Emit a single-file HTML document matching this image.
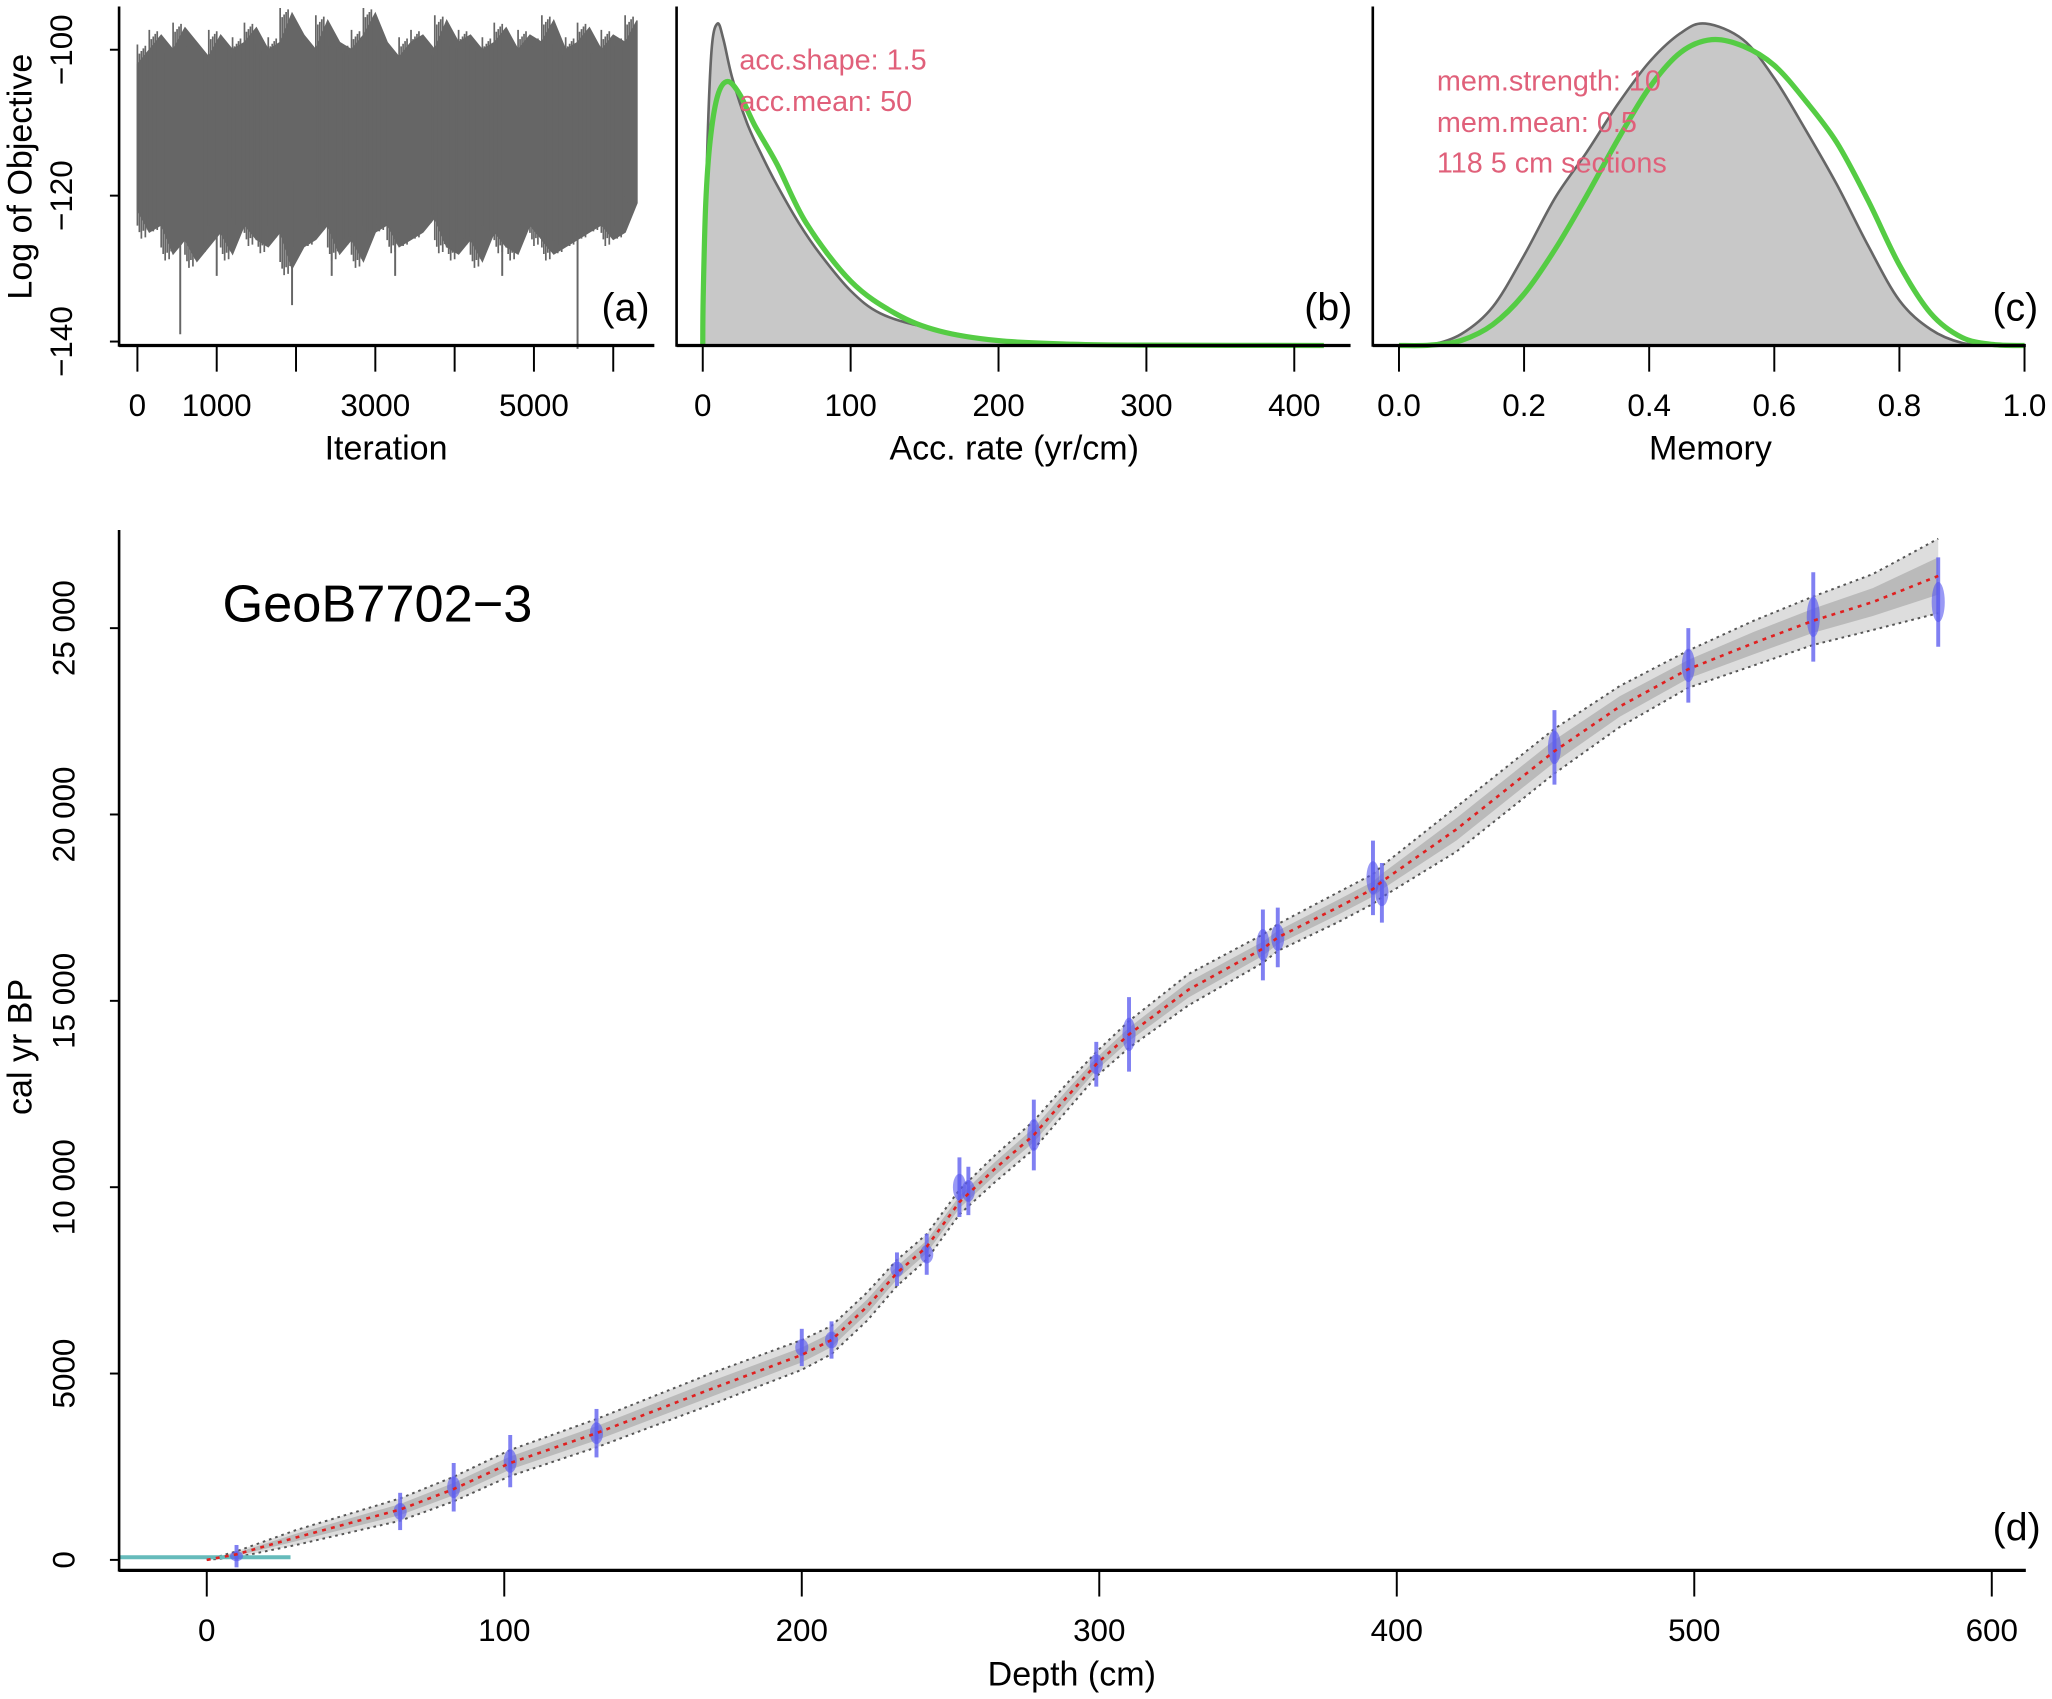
<!DOCTYPE html>
<html><head><meta charset="utf-8"><style>
html,body{margin:0;padding:0;background:#fff}
svg{display:block}
text{font-family:"Liberation Sans",Arial,sans-serif}
</style></head><body>
<svg id="s" xmlns="http://www.w3.org/2000/svg" width="2052" height="1699" viewBox="0 0 1568 1298.3" preserveAspectRatio="none">
<g id="ga"></g>
<g id="gb"></g>
<g id="gc"></g>
<g id="gd"></g>
</svg>
<script>
// ---- Panel a data (iteration trace envelope) ----
const iterX=[0,150,300,450,600,750,900,1050,1200,1350,1500,1650,1800,1950,2100,2250,2400,2550,2700,2850,3000,3150,3300,3450,3600,3750,3900,4050,4200,4350,4500,4650,4800,4950,5100,5250,5400,5550,5700,5850,6000,6150,6300];
const traceTop=[-102,-100,-98,-100,-97,-99,-101,-98,-100,-99,-97,-100,-99,-95,-98,-100,-96,-99,-100,-98,-95,-99,-101,-99,-98,-100,-96,-99,-98,-100,-99,-97,-100,-98,-99,-96,-100,-99,-97,-100,-98,-99,-96];
const traceBot=[-122,-125,-124,-128,-126,-129,-127,-125,-128,-124,-126,-127,-125,-130,-127,-126,-124,-128,-126,-129,-125,-124,-127,-126,-125,-123,-127,-128,-126,-129,-125,-127,-128,-124,-126,-128,-127,-126,-125,-124,-126,-125,-121];
const spikeIter=[540,1000,1950,2450,3250,4600,5550];
const spikeVal=[-139,-131,-135,-131,-131,-131,-141];
const aTicksX=[0,1000,2000,3000,4000,5000,6000];
const aLabelsX=["0","1000","","3000","","5000",""];
const aTicksY=[-100,-120,-140];
// ---- Panel b ----
const accX=[0,3,6,10,14,20,30,40,50,65,80,100,120,150,200,250,300,420];
const accPost=[0,0.6,0.92,1.0,0.95,0.83,0.69,0.59,0.5,0.38,0.28,0.17,0.1,0.057,0.016,0.005,0.002,0];
const accPriorX=[0,0.3,2,5,10,16.7,25,35,50,70,100,130,160,200,250,300,420];
const accPrior=[0,0.15,0.44,0.636,0.775,0.82,0.78,0.685,0.565,0.38,0.2,0.1,0.045,0.015,0.004,0.001,0];
const bTicks=[0,100,200,300,400];
// ---- Panel c ----
const memX=[0,0.05,0.1,0.15,0.2,0.25,0.3,0.35,0.4,0.45,0.49,0.55,0.6,0.65,0.7,0.75,0.8,0.85,0.9,0.95,1];
const memPost=[0,0.002,0.036,0.12,0.28,0.46,0.6,0.75,0.88,0.97,1.0,0.95,0.83,0.67,0.5,0.31,0.14,0.05,0.008,0,0];
const memPriorX=[0,0.05,0.1,0.15,0.2,0.25,0.3,0.35,0.4,0.45,0.5,0.55,0.6,0.65,0.7,0.75,0.8,0.85,0.9,0.95,1];
const memPrior=[0,0.001,0.016,0.065,0.16,0.30,0.465,0.64,0.8,0.91,0.95,0.93,0.87,0.76,0.63,0.45,0.25,0.1,0.025,0.003,0];
const cTicks=[0,0.2,0.4,0.6,0.8,1.0];
const cLabels=["0.0","0.2","0.4","0.6","0.8","1.0"];
// ---- Panel d ----
const modelDepth=[0,10,30,65,83,102,131,170,200,210,222,232,242,253,265,278,290,299,310,330,355,360,380,392,395,420,453,475,498,520,540,560,582];
const modelAge=[0,150,600,1350,1900,2600,3400,4600,5500,5900,6800,7700,8400,9600,10500,11400,12500,13300,14100,15300,16400,16700,17500,18000,18200,19600,21700,22900,23900,24600,25200,25700,26400];
const modelUnc=[0,80,200,300,330,350,380,420,400,380,380,350,340,330,360,380,360,330,360,420,380,360,400,400,420,600,600,550,500,600,650,750,1000];
const dateDepth=[10,65,83,102,131,200,210,232,242,253,256,278,299,310,355,360,392,395,453,498,540,582];
const dateAge=[100,1300,1950,2650,3400,5700,5900,7800,8200,10000,9900,11400,13300,14100,16500,16700,18300,17900,21800,24000,25300,25700];
const dateErr=[300,500,650,700,650,500,500,450,550,800,650,950,600,1000,950,800,1000,800,1000,1000,1200,1200];
const dTicksX=[0,100,200,300,400,500,600];
const dTicksY=[0,5000,10000,15000,20000,25000];
const dLabelsY=["0","5000","10 000","15 000","20 000","25 000"];

const NS="http://www.w3.org/2000/svg";
function mk(parent,tag,attrs,txt){const e=document.createElementNS(NS,tag);for(const k in attrs)e.setAttribute(k,attrs[k]);if(txt!==undefined)e.textContent=txt;parent.appendChild(e);return e;}
function smooth(P){let d='M'+P[0][0]+','+P[0][1];for(let i=0;i<P.length-1;i++){const p0=P[i-1]||P[i],p1=P[i],p2=P[i+1],p3=P[i+2]||p2;
 const c1=[p1[0]+(p2[0]-p0[0])/6,p1[1]+(p2[1]-p0[1])/6],c2=[p2[0]-(p3[0]-p1[0])/6,p2[1]-(p3[1]-p1[1])/6];
 d+=` C${c1[0]},${c1[1]} ${c2[0]},${c2[1]} ${p2[0]},${p2[1]}`;}return d;}
const ga=document.getElementById('ga'),gb=document.getElementById('gb'),gc=document.getElementById('gc'),gd=document.getElementById('gd');

// ===== Panel a =====
const ax=v=>105+v*0.0606, ay=v=>38+(v+100)*(-5.575);
let pts=[];iterX.forEach((v,i)=>pts.push(ax(v)+','+ay(traceTop[i])));
for(let i=iterX.length-1;i>=0;i--)pts.push(ax(iterX[i])+','+ay(traceBot[i]));
let e=mk(ga,'polygon',{points:pts.join(' '),fill:'#666',stroke:'#666','stroke-width':1});


iterX.forEach((v,i)=>{if(i==0)return;const x0=ax(iterX[i-1]);const x1=ax(v);
 for(let k=0;k<6;k++){const xx=x0+(x1-x0)*k/6;mk(ga,'line',{x1:xx,x2:xx,y1:ay(traceTop[i])+((k*7)%9)-4,y2:ay(traceBot[i])+((k*5)%11)-5,stroke:'#666','stroke-width':1.3});}});
spikeIter.forEach((v,i)=>{const l=mk(ga,'line',{x1:ax(v),x2:ax(v),y1:ay(-118),y2:ay(spikeVal[i]),stroke:'#666','stroke-width':1.5});
 
 });
mk(ga,'line',{x1:91,x2:91,y1:5,y2:265,stroke:'#000','stroke-width':2});
mk(ga,'line',{x1:91,x2:500,y1:264,y2:264,stroke:'#000','stroke-width':2.5});
aTicksX.forEach((v,i)=>{mk(ga,'line',{x1:ax(v),x2:ax(v),y1:264,y2:284,stroke:'#000','stroke-width':1.5});
 if(aLabelsX[i])mk(ga,'text',{x:ax(v),y:318,'font-size':24,'text-anchor':'middle'},aLabelsX[i]);});
aTicksY.forEach(v=>{mk(ga,'line',{x1:84,x2:91,y1:ay(v),y2:ay(v),stroke:'#000','stroke-width':1.5});
 mk(ga,'text',{x:0,y:0,'font-size':24,'text-anchor':'middle',transform:`translate(55,${ay(v)}) rotate(-90)`},String(v).replace('-','\u2212'));});
mk(ga,'text',{x:295,y:351,'font-size':26,'text-anchor':'middle'},'Iteration');
mk(ga,'text',{x:0,y:0,'font-size':26,'text-anchor':'middle',transform:'translate(24,135) rotate(-90)'},'Log of Objective');
mk(ga,'text',{x:478,y:245,'font-size':30,'text-anchor':'middle'},'(a)');

// ===== Panel b =====
const bx=v=>537+v*1.13, by=v=>264-v*246;
e=mk(gb,'path',{d:smooth(accX.map((v,i)=>[bx(v),by(accPost[i])]))+'Z',fill:'#c8c8c8',stroke:'#666','stroke-width':2});


e=mk(gb,'path',{d:smooth(accPriorX.map((v,i)=>[bx(v),by(accPrior[i])])),fill:'none',stroke:'#55cc44','stroke-width':4});


mk(gb,'line',{x1:517,x2:517,y1:5,y2:265,stroke:'#000','stroke-width':2});
mk(gb,'line',{x1:517,x2:1032,y1:264,y2:264,stroke:'#000','stroke-width':2.5});
bTicks.forEach(v=>{mk(gb,'line',{x1:bx(v),x2:bx(v),y1:264,y2:284,stroke:'#000','stroke-width':1.5});
 mk(gb,'text',{x:bx(v),y:318,'font-size':24,'text-anchor':'middle'},String(v));});
mk(gb,'text',{x:775,y:351,'font-size':26,'text-anchor':'middle'},'Acc. rate (yr/cm)');
mk(gb,'text',{x:565,y:53,'font-size':22,fill:'#e0607a'},'acc.shape:  1.5');
mk(gb,'text',{x:565,y:85,'font-size':22,fill:'#e0607a'},'acc.mean:  50');
mk(gb,'text',{x:1015,y:245,'font-size':30,'text-anchor':'middle'},'(b)');

// ===== Panel c =====
const cx=v=>1069+v*478, cy=v=>264-v*246;
e=mk(gc,'path',{d:smooth(memX.map((v,i)=>[cx(v),cy(memPost[i])]))+'Z',fill:'#c8c8c8',stroke:'#666','stroke-width':2});


e=mk(gc,'path',{d:smooth(memPriorX.map((v,i)=>[cx(v),cy(memPrior[i])])),fill:'none',stroke:'#55cc44','stroke-width':4});


mk(gc,'line',{x1:1049,x2:1049,y1:5,y2:265,stroke:'#000','stroke-width':2});
mk(gc,'line',{x1:1049,x2:1548,y1:264,y2:264,stroke:'#000','stroke-width':2.5});
cTicks.forEach((v,i)=>{mk(gc,'line',{x1:cx(v),x2:cx(v),y1:264,y2:284,stroke:'#000','stroke-width':1.5});
 mk(gc,'text',{x:cx(v),y:318,'font-size':24,'text-anchor':'middle'},cLabels[i]);});
mk(gc,'text',{x:1307,y:351,'font-size':26,'text-anchor':'middle'},'Memory');
mk(gc,'text',{x:1098,y:69,'font-size':22,fill:'#e0607a'},'mem.strength: 10');
mk(gc,'text',{x:1098,y:101,'font-size':22,fill:'#e0607a'},'mem.mean: 0.5');
mk(gc,'text',{x:1098,y:132,'font-size':22,fill:'#e0607a'},'118 5 cm sections');
mk(gc,'text',{x:1540,y:245,'font-size':30,'text-anchor':'middle'},'(c)');

// ===== Panel d =====
const dx=v=>158+v*2.2733, dy=v=>1192-v*0.02848;
const up=modelDepth.map((v,i)=>dx(v)+','+dy(modelAge[i]+modelUnc[i]));
const lo=modelDepth.map((v,i)=>dx(v)+','+dy(modelAge[i]-modelUnc[i]));
e=mk(gd,'polygon',{points:up.concat(lo.slice().reverse()).join(' '),fill:'#aaa','fill-opacity':0.4});


mk(gd,'polygon',{points:modelDepth.map((v,i)=>dx(v)+','+dy(modelAge[i]+modelUnc[i]*0.5)).concat(modelDepth.map((v,i)=>dx(v)+','+dy(modelAge[i]-modelUnc[i]*0.5)).reverse()).join(' '),fill:'#888','fill-opacity':0.4});
mk(gd,'polyline',{points:up.join(' '),fill:'none',stroke:'#555','stroke-width':1.5,'stroke-dasharray':'2 3'});
mk(gd,'polyline',{points:lo.join(' '),fill:'none',stroke:'#555','stroke-width':1.5,'stroke-dasharray':'2 3'});
mk(gd,'line',{x1:91,x2:222,y1:1190,y2:1190,stroke:'#66bbbb','stroke-width':3});
dateDepth.forEach((v,i)=>{const g=mk(gd,'g',{});
 
 
 mk(g,'line',{x1:dx(v),x2:dx(v),y1:dy(dateAge[i]-dateErr[i]),y2:dy(dateAge[i]+dateErr[i]),stroke:'#6a6af0','stroke-width':3,'stroke-opacity':0.85});
 mk(g,'ellipse',{cx:dx(v),cy:dy(dateAge[i]),rx:5,ry:dateErr[i]*0.02848*0.45,fill:'#5555ee','fill-opacity':0.6});});
e=mk(gd,'polyline',{points:modelDepth.map((v,i)=>dx(v)+','+dy(modelAge[i])).join(' '),fill:'none',stroke:'#e02020','stroke-width':2,'stroke-dasharray':'3 4'});


mk(gd,'line',{x1:91,x2:91,y1:405,y2:1201,stroke:'#000','stroke-width':2});
mk(gd,'line',{x1:91,x2:1548,y1:1200,y2:1200,stroke:'#000','stroke-width':2.5});
dTicksX.forEach(v=>{mk(gd,'line',{x1:dx(v),x2:dx(v),y1:1200,y2:1220,stroke:'#000','stroke-width':1.5});
 mk(gd,'text',{x:dx(v),y:1254,'font-size':24,'text-anchor':'middle'},String(v));});
dTicksY.forEach((v,i)=>{mk(gd,'line',{x1:84,x2:91,y1:dy(v),y2:dy(v),stroke:'#000','stroke-width':1.5});
 mk(gd,'text',{x:0,y:0,'font-size':24,'text-anchor':'middle',transform:`translate(57,${dy(v)}) rotate(-90)`},dLabelsY[i]);});
mk(gd,'text',{x:819,y:1288,'font-size':26,'text-anchor':'middle'},'Depth (cm)');
mk(gd,'text',{x:0,y:0,'font-size':26,'text-anchor':'middle',transform:'translate(24,800) rotate(-90)'},'cal yr BP');
mk(gd,'text',{x:170,y:475,'font-size':40},'GeoB7702\u22123');
mk(gd,'text',{x:1541,y:1177,'font-size':30,'text-anchor':'middle'},'(d)');
</script>
</body></html>
